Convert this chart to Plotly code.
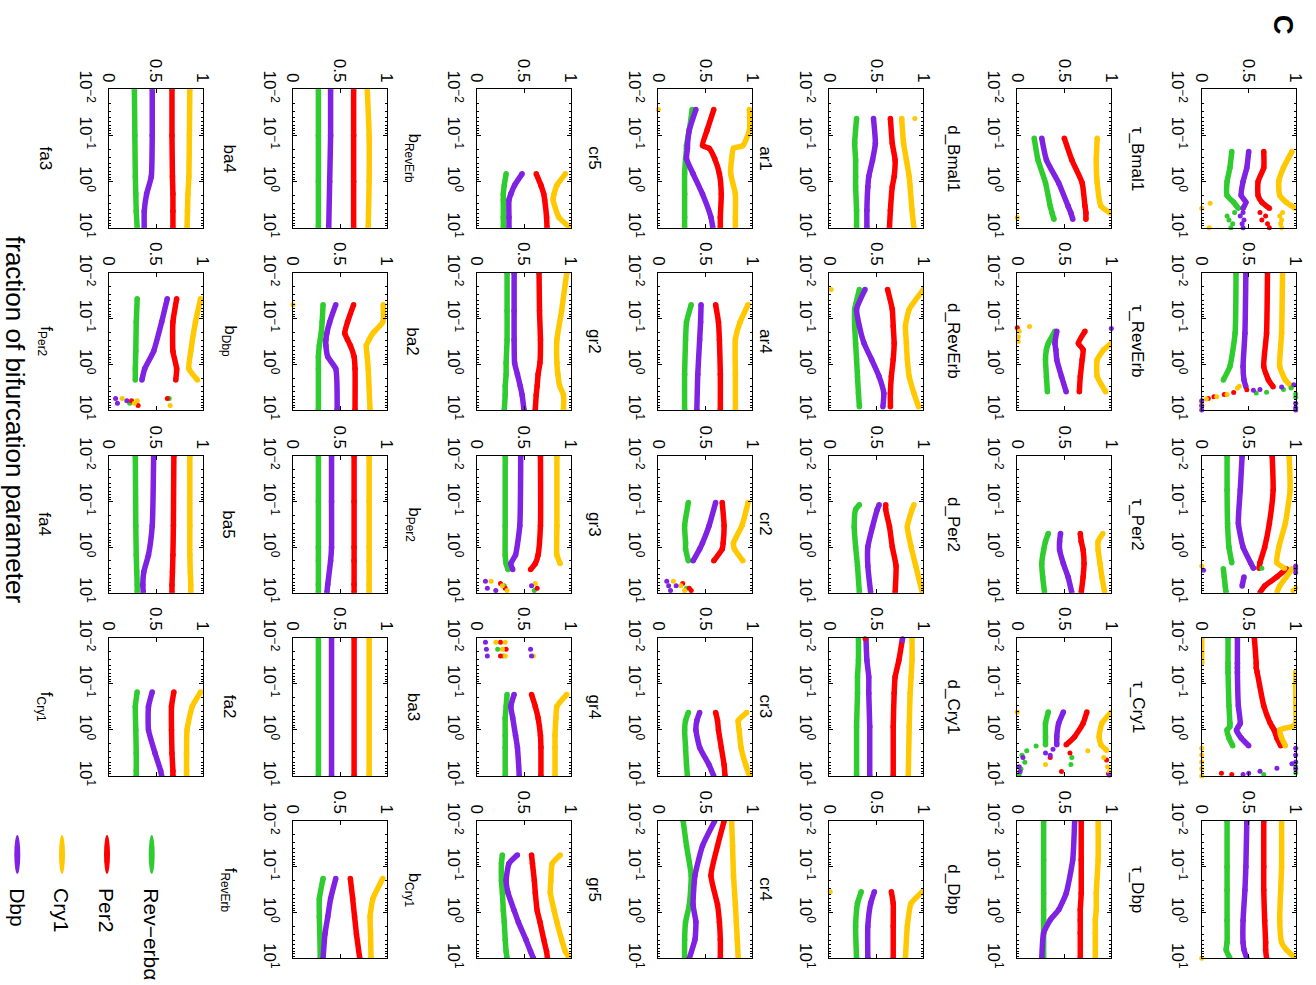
import plotly.graph_objects as go

# ---------------- series ----------------
SERIES = ["Rev−erbα", "Per2", "Cry1", "Dbp"]
SERIES_CODES = ["G", "R", "Y", "P"]   # code used in the scattered-dot lists

# ---------------- data (x = fraction of bifurcation parameter, values in [0,1]) ----------------
tauBmal1_x = [0.224, 0.5, 1.0, 2.0, 2.82, 3.8]
tauBmal1_rev = [0.32, 0.30, 0.27, 0.27, 0.34, 0.39]
tauBmal1_per = [0.66, 0.66, 0.60, 0.60, 0.64, 0.72]
tauBmal1_cry = [0.96, 0.87, 0.82, 0.83, 0.90, 1.0]
tauBmal1_dbp = [0.50, 0.48, 0.44, 0.42, 0.47, 0.44]
tauBmal1_dx = [4.7, 5.6, 6.8, 8.2, 10, 4.7, 5.6, 6.8, 8.2, 10, 4.7, 5.6, 6.8, 8.2, 10, 4.7, 5.6, 6.8, 8.2, 10, 2.95, 3.8, 10]
tauBmal1_dv = [0.35, 0.27, 0.29, 0.33, 0.31, 0.62, 0.68, 0.64, 0.70, 0.72, 0.86, 0.83, 0.85, 0.84, 0.85, 0.44, 0.41, 0.45, 0.43, 0.44, 0.09, 0.0, 0.08]
tauBmal1_dc = "GGGGGRRRRRYYYYYPPPPPYYY"

tauRevErb_x = [0.01, 0.21, 1.12, 2.2, 3.1]
tauRevErb_rev = [0.365, 0.355, 0.30, 0.23, None]
tauRevErb_per = [0.70, 0.69, 0.66, 0.71, 0.76]
tauRevErb_cry = [0.86, 0.85, 0.83, 0.89, 0.96]
tauRevErb_dbp = [0.47, 0.46, 0.44, 0.45, 0.47]
tauRevErb_dx = [2.82, 3.16, 3.55, 3.72, 6.31, 7.08, 7.94, 8.91, 10, 10,
                3.31, 3.55, 4.07, 4.27, 4.47, 5.25,
                3.63, 4.17, 4.57, 5.13, 5.62,
                3.02, 3.31, 4.57, 5.13, 5.75, 6.61, 8.32]
tauRevErb_dv = [0.98, 0.85, 0.62, 0.55, 0.0, 1.0, 0.0, 1.0, 0.0, 1.0,
                0.95, 0.87, 0.69, 0.58, 1.0, 1.0,
                0.48, 0.34, 0.24, 0.13, 0.07,
                0.40, 0.38, 0.27, 0.16, 0.05, 0.0, 0.0]
tauRevErb_dc = "PPPPPPPPPPGGGGGGRRRRRYYYYYYY"

tauPer2_x = [0.01, 0.056, 0.3, 1.0, 2.2, 2.9, 2.95, 3.0, 4.5, 7.1, 10]
tauPer2_rev = [0.27, 0.27, 0.275, 0.29, 0.32, None, None, 0.23, 0.24, 0.25, 0.26]
tauPer2_per = [0.75, 0.76, 0.72, 0.67, 0.62, 0.61, None, 0.90, 0.80, 0.67, 0.62]
tauPer2_cry = [0.93, 0.94, 0.89, 0.82, 0.80, 0.88, None, 0.96, 0.90, 0.83, 0.80]
tauPer2_dbp = [0.43, 0.41, 0.39, 0.44, 0.52, 0.55, None, None, 0.45, 0.43, None]
tauPer2_dx = [2.6, 3.0, 3.6, 3.2, 2.6, 7.9, 8.9, 2.9]
tauPer2_dv = [1.0, 1.0, 1.0, 0.02, 0.0, 1.0, 0.97, 0.64]
tauPer2_dc = "PPPPYYYG"

tauCry1_x = [0.01, 0.036, 0.045, 0.056, 0.3, 0.72, 0.85, 1.0, 1.5, 2.2]
tauCry1_rev = [0.28, 0.28, 0.28, 0.28, 0.29, 0.30, 0.30, 0.27, 0.29, 0.33]
tauCry1_per = [0.56, 0.58, 0.58, 0.59, 0.66, 0.73, 0.75, 0.77, 0.80, 0.84]
tauCry1_cry = [0.0, 0.0, None, 1.0, 1.0, 1.0, 0.96, 0.83, 0.85, 0.89]
tauCry1_dbp = [0.38, 0.38, 0.38, 0.38, 0.39, 0.41, 0.39, 0.37, 0.42, 0.50]
tauCry1_dx = [2.5, 3.5, 5.0, 7.0, 10, 2.5, 3.5, 5.0, 7.0, 5.4, 6.8, 7.9, 8.7, 9.3, 8.7, 9.3, 9.3, 6.3, 8.5]
tauCry1_dv = [0.0, 0.0, 0.0, 0.0, 0.0, 1.0, 1.0, 1.0, 1.0, 0.96, 0.80, 0.62, 0.50, 0.44, 0.21, 0.32, 0.66, 1.0, 1.0]
tauCry1_dc = "YYYYYPPPPPPPPPRRGGG"

tauDbp_x = [0.01, 0.1, 0.32, 1.5, 4.5, 6.5, 10]
tauDbp_rev = [0.27, 0.27, 0.27, 0.27, 0.27, 0.26, 0.30]
tauDbp_per = [0.66, 0.66, 0.66, 0.67, 0.68, 0.68, 0.69]
tauDbp_cry = [0.85, 0.85, 0.84, 0.83, 0.85, 0.90, 1.0]
tauDbp_dbp = [0.48, 0.47, 0.46, 0.44, 0.44, 0.45, 0.48]
tauDbp_dx = [10]
tauDbp_dv = [0.0]
tauDbp_dc = "Y"

dBmal1_x = [0.115, 0.34, 1.07, 3.4, 4.8, 6.6]
dBmal1_rev = [0.18, 0.22, 0.30, 0.35, 0.37, 0.39]
dBmal1_per = [0.50, 0.58, 0.69, 0.72, 0.73, 0.73]
dBmal1_cry = [0.85, 0.84, 0.85, 0.89, 0.99, None]
dBmal1_dbp = [0.26, 0.31, 0.44, 0.54, 0.57, 0.59]
dBmal1_dx = [6.0]
dBmal1_dv = [0.0]
dBmal1_dc = "Y"

dRevErb_x = [0.19, 0.35, 0.48, 0.8, 1.86, 4.0]
dRevErb_rev = [0.40, 0.33, 0.31, 0.30, 0.31, 0.32]
dRevErb_per = [0.72, 0.65, 0.70, 0.69, 0.67, 0.66]
dRevErb_cry = [None, 1.0, 0.92, 0.85, 0.85, 0.94]
dRevErb_dbp = [0.42, 0.40, 0.41, 0.42, 0.47, 0.52]
dRevErb_dx = [0.16, 0.15, 0.19, 0.25, 0.32, 0.166]
dRevErb_dv = [0.0, 0.13, 0.02, 0.01, 0.01, 1.0]
dRevErb_dc = "RYYYYP"

dPer2_x = [0.5, 0.75, 1.15, 2.3, 4.5, 10]
dPer2_rev = [0.33, 0.30, 0.28, 0.26, 0.27, 0.29]
dPer2_per = [0.67, 0.68, 0.70, 0.71, 0.70, 0.68]
dPer2_cry = [0.91, 0.86, 0.86, 0.88, 0.90, 0.93]
dPer2_dbp = [0.46, 0.45, 0.45, 0.49, 0.54, 0.58]

dCry1_x = [0.41, 0.72, 1.4, 2.1, 2.75]
dCry1_rev = [0.33, 0.30, 0.30, 0.30, None]
dCry1_per = [0.74, 0.70, 0.61, 0.52, None]
dCry1_cry = [1.0, 0.90, 0.87, 0.89, 0.95]
dCry1_dbp = [0.49, 0.44, 0.42, 0.42, None]
dCry1_dx = [2.24, 2.82, 3.55, 5.01, 7.08, 9.33, 3.98, 5.62,
            2.63, 3.16, 3.98, 6.31, 7.94, 3.55, 9.55,
            3.16, 3.98, 4.47, 7.94, 8.91,
            2.82, 3.98, 6.31, 7.94, 5.62, 0.41]
dCry1_dv = [0.20, 0.10, 0.05, 0.08, 0.04, 0.02, 0.58, 0.57,
            0.38, 0.30, 0.06, 0.02, 0.03, 0.35, 0.98,
            0.56, 0.35, 0.95, 0.47, 0.97,
            0.75, 0.92, 0.96, 0.98, 0.30, 0.0]
dCry1_dc = "GGGGGGGGPPPPPPPRRRRRYYYYYY"

dDbp_x = [0.01, 0.07, 0.38, 0.87, 1.45, 2.8, 10]
dDbp_rev = [0.28, 0.28, 0.28, 0.28, 0.28, 0.28, 0.28]
dDbp_per = [0.68, 0.68, 0.68, 0.67, 0.67, 0.67, 0.67]
dDbp_cry = [0.86, 0.86, 0.84, 0.84, 0.83, 0.83, 0.83]
dDbp_dbp = [0.61, 0.59, 0.52, 0.44, 0.35, 0.28, 0.26]

ar1_x = [0.043, 0.148, 0.34, 0.78, 1.29, 4.2, 10]
ar1_rev = [0.29, 0.27, 0.28, 0.28, 0.28, 0.29, 0.29]
ar1_per = [0.65, 0.67, 0.70, 0.69, 0.67, 0.65, 0.64]
ar1_cry = [0.77, 0.79, 0.82, 0.85, 0.86, 0.88, 0.90]
ar1_dbp = [0.47, 0.49, 0.46, 0.42, 0.41, 0.40, 0.40]
ar1_dx = [0.043]
ar1_dv = [0.91]
ar1_dc = "Y"

ar4_x = [0.0234, 0.063, 0.148, 0.35, 0.79, 1.86, 4.3, 8.5]
ar4_rev = [0.32, 0.27, 0.27, 0.28, 0.29, 0.30, 0.31, 0.32]
ar4_per = [0.62, 0.67, 0.68, 0.69, 0.68, 0.66, 0.65, 0.65]
ar4_cry = [1.0, 0.85, 0.81, 0.82, 0.83, 0.85, 0.90, 0.95]
ar4_dbp = [0.38, 0.29, 0.32, 0.37, 0.45, 0.53, 0.58, 0.57]
ar4_dx = [0.0234]
ar4_dv = [0.02]
ar4_dc = "Y"

cr2_x = [0.117, 0.15, 0.355, 0.98, 2.6, 10]
cr2_rev = [0.32, 0.28, 0.265, 0.28, 0.30, 0.32]
cr2_per = [0.60, 0.60, 0.64, 0.67, 0.71, 0.70]
cr2_cry = [0.90, 0.88, 0.83, 0.87, 0.92, 0.99]
cr2_dbp = [0.53, 0.51, 0.46, 0.41, 0.41, 0.44]

cr3_x = [0.01, 0.031, 0.071, 0.16, 0.85, 10]
cr3_rev = [0.31, 0.31, 0.30, 0.30, 0.29, 0.29]
cr3_per = [0.78, 0.74, 0.70, 0.69, 0.68, 0.68]
cr3_cry = [0.88, 0.88, 0.87, 0.86, 0.85, 0.84]
cr3_dbp = [0.39, 0.40, 0.42, 0.42, 0.43, 0.43]
cr3_dx = [0.0105, 0.0105, 0.0115]
cr3_dv = [0.38, 0.78, 0.775]
cr3_dc = "RPP"

cr4_x = [0.35, 0.63, 2.0, 10]
cr4_rev = [0.34, 0.30, 0.28, 0.29]
cr4_per = [0.66, 0.68, 0.68, 0.68]
cr4_cry = [0.99, 0.87, 0.83, 0.81]
cr4_dbp = [0.48, 0.44, 0.41, 0.41]
cr4_dx = [0.35]
cr4_dv = [0.01]
cr4_dc = "Y"

cr5_x = [0.0275, 0.076, 0.166, 0.19, 0.32, 0.68, 1.86, 5.9, 10]
cr5_rev = [0.36, 0.33, 0.30, 0.30, 0.29, 0.28, 0.28, 0.28, 0.28]
cr5_per = [0.59, 0.52, 0.47, 0.54, 0.60, 0.65, 0.67, 0.66, 0.66]
cr5_cry = [0.97, 0.97, 0.90, 0.80, 0.78, 0.77, 0.82, 0.82, 0.82]
cr5_dbp = [0.40, 0.33, 0.31, 0.31, 0.30, 0.37, 0.47, 0.56, 0.58]
cr5_dx = [0.0275]
cr5_dv = [0.0]
cr5_dc = "Y"

gr2_x = [0.05, 0.12, 0.29, 1.66, 10]
gr2_rev = [0.35, 0.30, 0.29, 0.28, 0.28]
gr2_per = [0.61, 0.64, 0.65, 0.66, 0.66]
gr2_cry = [0.955, 0.87, 0.82, 0.82, 0.82]
gr2_dbp = [0.455, 0.45, 0.44, 0.42, 0.41]

gr3_x = [0.105, 0.34, 0.81, 1.1, 2.0]
gr3_rev = [0.32, 0.28, 0.29, 0.29, 0.32]
gr3_per = [0.68, 0.70, 0.69, 0.68, 0.59]
gr3_cry = [0.955, 0.89, 0.80, 0.81, 0.90]
gr3_dbp = [0.61, 0.54, 0.47, 0.44, 0.37]
gr3_dx = [5.62, 7.08, 8.91, 7.08, 5.62, 7.08, 8.91, 6.31, 7.94, 8.91, 7.94]
gr3_dv = [0.09, 0.11, 0.13, 0.19, 0.16, 0.24, 0.28, 0.26, 0.33, 0.35, 0.30]
gr3_dc = "PPPPYYYRRRG"

gr4_x = [0.42, 0.63, 1.0, 2.4, 5.75, 10]
gr4_rev = [0.32, 0.29, 0.28, 0.29, 0.30, 0.31]
gr4_per = [0.61, 0.63, 0.64, 0.67, 0.70, 0.71]
gr4_cry = [0.94, 0.85, 0.86, 0.88, 0.93, 0.97]
gr4_dbp = [0.44, 0.41, 0.40, 0.44, 0.54, 0.59]

gr5_x = [0.01, 0.035, 0.155, 0.68, 1.62, 3.9, 10]
gr5_rev = [0.265, 0.30, 0.35, 0.33, 0.29, 0.28, 0.28]
gr5_per = [0.70, 0.63, 0.56, 0.63, 0.65, 0.66, 0.66]
gr5_cry = [0.78, 0.79, 0.80, 0.82, 0.83, 0.84, 0.85]
gr5_dbp = [0.60, 0.47, 0.39, 0.37, 0.40, 0.39, 0.33]

bRevErb_x = [0.68, 1.2, 1.86, 2.5, 5.9, 10]
bRevErb_rev = [0.31, 0.29, 0.28, 0.28, 0.28, 0.28]
bRevErb_per = [0.63, 0.68, 0.71, 0.72, 0.74, 0.745]
bRevErb_cry = [0.94, 0.85, 0.82, 0.81, 0.87, 0.99]
bRevErb_dbp = [0.48, 0.40, 0.36, 0.34, 0.34, 0.34]

ba2_x = [0.01, 0.068, 0.29, 0.93, 1.66, 3.0, 4.7, 10]
ba2_rev = [0.32, 0.32, 0.32, 0.31, 0.31, 0.30, 0.30, 0.29]
ba2_per = [0.66, 0.665, 0.675, 0.67, 0.65, 0.64, 0.63, 0.62]
ba2_cry = [0.955, 0.90, 0.85, 0.85, 0.86, 0.88, 0.92, 0.92]
ba2_dbp = [0.395, 0.395, 0.395, 0.40, 0.43, 0.46, 0.48, 0.50]

bPer2_x = [0.01, 0.34, 1.48, 2.3, 3.1]
bPer2_rev = [0.30, 0.30, 0.30, 0.31, 0.33]
bPer2_per = [0.675, 0.675, 0.65, 0.62, 0.57]
bPer2_cry = [0.85, 0.85, 0.85, 0.885, None]
bPer2_dbp = [0.465, 0.455, 0.41, 0.36, 0.38]
bPer2_dx = [5.62, 7.94, 7.08, 8.91, 5.62, 7.08, 8.91, 6.31, 6.31, 7.94, 7.94, 7.08, 8.91]
bPer2_dv = [0.09, 0.11, 0.58, 0.20, 0.15, 0.27, 0.32, 0.62, 0.25, 0.30, 0.64, 0.29, 0.61]
bPer2_dc = "PPPPYYYYRRRGG"

ba3_x = [0.17, 0.31, 0.55, 1.32, 2.4, 10]
ba3_rev = [0.32, 0.31, 0.30, 0.30, 0.30, 0.30]
ba3_per = [0.58, 0.62, 0.65, 0.675, 0.68, 0.68]
ba3_cry = [0.955, 0.85, 0.84, 0.83, 0.83, 0.83]
ba3_dbp = [0.395, 0.36, 0.38, 0.41, 0.43, 0.45]
ba3_dx = [0.0126, 0.0178, 0.0251, 0.0178, 0.0251, 0.0126, 0.0178, 0.0251, 0.0251, 0.0126,
          0.0126, 0.0178, 0.0251, 0.0178, 0.0251]
ba3_dv = [0.09, 0.10, 0.11, 0.57, 0.58, 0.20, 0.27, 0.30, 0.60, 0.30,
          0.25, 0.31, 0.25, 0.22, 0.28]
ba3_dc = "PPPPPYYYYYRRRGG"

bCry1_x = [0.055, 0.085, 0.2, 0.37, 0.9, 1.62, 3.9, 7.1, 10]
bCry1_rev = [0.27, 0.26, 0.26, 0.27, 0.28, 0.29, 0.30, 0.31, 0.32]
bCry1_per = [0.58, 0.59, 0.61, 0.62, 0.64, 0.67, 0.71, 0.74, 0.75]
bCry1_cry = [0.885, 0.80, 0.785, 0.78, 0.82, 0.85, 0.90, 0.94, 0.985]
bCry1_dbp = [0.43, 0.34, 0.31, 0.33, 0.395, 0.44, 0.52, 0.57, 0.60]

ba4_x = [0.01, 0.1, 1.0, 10]
ba4_rev = [0.27, 0.27, 0.27, 0.27]
ba4_per = [0.645, 0.645, 0.645, 0.645]
ba4_cry = [0.79, 0.81, 0.81, 0.80]
ba4_dbp = [0.40, 0.40, 0.39, 0.38]

bDbp_x = [0.05, 0.12, 0.21, 0.29, 0.39, 0.69, 1.26, 10]
bDbp_rev = [0.32, 0.31, 0.30, 0.29, 0.28, 0.27, 0.27, 0.27]
bDbp_per = [0.645, 0.58, 0.55, 0.58, 0.61, 0.65, 0.66, 0.66]
bDbp_cry = [0.96, 0.955, 0.85, 0.81, 0.78, 0.79, 0.80, 0.82]
bDbp_dbp = [0.455, 0.39, 0.36, 0.35, 0.35, 0.37, 0.455, 0.47]
bDbp_dx = [0.05]
bDbp_dv = [0.0]
bDbp_dc = "Y"

ba5_x = [0.01, 0.1, 1.0, 2.0, 6.5, 10]
ba5_rev = [0.27, 0.27, 0.27, 0.27, 0.27, 0.27]
ba5_per = [0.65, 0.65, 0.65, 0.65, 0.65, 0.65]
ba5_cry = [0.81, 0.81, 0.81, 0.81, 0.81, 0.81]
ba5_dbp = [0.41, 0.41, 0.41, 0.40, 0.37, 0.36]

fa2_x = [0.01, 10]
fa2_rev = [0.27, 0.27]
fa2_per = [0.65, 0.65]
fa2_cry = [0.81, 0.81]
fa2_dbp = [0.41, 0.41]

fRevErb_x = [0.18, 0.5, 1.23, 2.95, 10]
fRevErb_rev = [0.32, 0.28, 0.28, 0.285, 0.29]
fRevErb_per = [0.61, 0.635, 0.655, 0.675, 0.71]
fRevErb_cry = [0.955, 0.85, 0.82, 0.825, 0.83]
fRevErb_dbp = [0.455, 0.40, 0.37, 0.34, 0.32]

fa3_x = [0.01, 0.1, 0.78, 1.86, 4.4, 10]
fa3_rev = [0.27, 0.275, 0.28, 0.285, 0.29, 0.30]
fa3_per = [0.67, 0.67, 0.675, 0.68, 0.68, 0.68]
fa3_cry = [0.86, 0.855, 0.85, 0.84, 0.835, 0.83]
fa3_dbp = [0.46, 0.46, 0.45, 0.40, 0.375, 0.375]

fPer2_x = [0.037, 0.12, 0.52, 1.26, 2.2]
fPer2_rev = [0.30, 0.29, 0.285, 0.28, 0.28]
fPer2_per = [0.72, 0.68, 0.68, 0.72, 0.71]
fPer2_cry = [0.975, 0.92, 0.87, 0.85, 0.94]
fPer2_dbp = [0.62, 0.56, 0.475, 0.38, 0.35]
fPer2_dx = [5.62, 7.08, 6.31, 5.62, 7.08, 7.94, 6.31, 6.31, 7.94, 5.62, 7.08, 5.62]
fPer2_dv = [0.07, 0.09, 0.19, 0.14, 0.27, 0.65, 0.30, 0.24, 0.31, 0.62, 0.22, 0.64]
fPer2_dc = "PPPYYYYRRRGG"

fa4_x = [0.01, 0.34, 1.48, 3.5, 6.8, 10]
fa4_rev = [0.28, 0.285, 0.29, 0.295, 0.30, 0.30]
fa4_per = [0.69, 0.685, 0.68, 0.675, 0.67, 0.67]
fa4_cry = [0.86, 0.86, 0.86, 0.865, 0.87, 0.87]
fa4_dbp = [0.475, 0.46, 0.42, 0.37, 0.36, 0.365]

fCry1_x = [0.15, 0.31, 1.0, 3.2, 7.8, 10]
fCry1_rev = [0.30, 0.28, 0.285, 0.29, 0.29, 0.29]
fCry1_per = [0.69, 0.665, 0.665, 0.67, 0.68, 0.68]
fCry1_cry = [0.975, 0.885, 0.83, 0.825, 0.825, 0.825]
fCry1_dbp = [0.46, 0.42, 0.42, 0.49, 0.55, 0.56]

# panel labels (TeX-like subscripts rendered with <sub>)
PANEL_LABELS = [
    "τ_Bmal1", "τ_RevErb", "τ_Per2", "τ_Cry1", "τ_Dbp",
    "d_Bmal1", "d_RevErb", "d_Per2", "d_Cry1", "d_Dbp",
    "ar1", "ar4", "cr2", "cr3", "cr4",
    "cr5", "gr2", "gr3", "gr4", "gr5",
    "b<sub>RevErb</sub>", "ba2", "b<sub>Per2</sub>", "ba3", "b<sub>Cry1</sub>",
    "ba4", "b<sub>Dbp</sub>", "ba5", "fa2", "f<sub>RevErb</sub>",
    "fa3", "f<sub>Per2</sub>", "fa4", "f<sub>Cry1</sub>",
]
PANEL_KEYS = [
    "tauBmal1", "tauRevErb", "tauPer2", "tauCry1", "tauDbp",
    "dBmal1", "dRevErb", "dPer2", "dCry1", "dDbp",
    "ar1", "ar4", "cr2", "cr3", "cr4",
    "cr5", "gr2", "gr3", "gr4", "gr5",
    "bRevErb", "ba2", "bPer2", "ba3", "bCry1",
    "ba4", "bDbp", "ba5", "fa2", "fRevErb",
    "fa3", "fPer2", "fa4", "fCry1",
]
Y_TICKVALS = [0.01, 0.1, 1, 10]
Y_TICKTEXT = ["10<sup>−2</sup>", "10<sup>−1</sup>", "10<sup>0</sup>", "10<sup>1</sup>"]
X_TICKVALS = [0, 0.5, 1]
X_TICKTEXT = ["0", "0.5", "1"]
MINOR_VALS = [0.02, 0.03, 0.04, 0.05, 0.06, 0.07, 0.08, 0.09,
              0.2, 0.3, 0.4, 0.5, 0.6, 0.7, 0.8, 0.9,
              2, 3, 4, 5, 6, 7, 8, 9]

# ---------------- style / layout constants ----------------
W, H = 1316, 985
COLORS = {"G": "#2ECC2E", "R": "#FF0000", "Y": "#FFC800", "P": "#7F22E3"}
FONT = "Liberation Sans, Arial, Helvetica, sans-serif"
COL_LEFT = [1201.7, 1017.3, 829.3, 658.3, 477.0, 293.0, 109.0]   # picture x of each original row
PANEL_W = 94.0
ROW_TOP = [89.3, 272.7, 456.0, 637.7, 821.0]
ROW_BOTTOM = [227.7, 410.0, 592.7, 776.0, 958.3]

g = globals()
fig = go.Figure()
layout = dict(
    width=W, height=H, margin=dict(l=0, r=0, t=0, b=0, autoexpand=False),
    paper_bgcolor="white", plot_bgcolor="white", showlegend=False,
    font=dict(family=FONT, color="black"),
)
annotations = []
shapes = []

for k, key in enumerate(PANEL_KEYS):
    r, c = divmod(k, 5)
    left = COL_LEFT[r]
    right = left + PANEL_W
    top, bottom = ROW_TOP[c], ROW_BOTTOM[c]
    n = k + 1
    xa = "x" if n == 1 else f"x{n}"
    ya = "y" if n == 1 else f"y{n}"
    xs = g[key + "_x"]
    vals = [g[key + "_rev"], g[key + "_per"], g[key + "_cry"], g[key + "_dbp"]]
    for code, v in zip(SERIES_CODES, vals):
        fig.add_trace(go.Scatter(
            x=v, y=xs, xaxis=xa, yaxis=ya, mode="lines+markers",
            line=dict(color=COLORS[code], width=5.5, shape="spline", smoothing=0.5),
            marker=dict(color=COLORS[code], size=5.5),
            connectgaps=False, hoverinfo="skip"))
    if key + "_dx" in g:
        dx, dv, dc = g[key + "_dx"], g[key + "_dv"], g[key + "_dc"]
        for code in SERIES_CODES:
            px = [dx[i] for i in range(len(dx)) if dc[i] == code]
            pv = [dv[i] for i in range(len(dv)) if dc[i] == code]
            if px:
                fig.add_trace(go.Scatter(
                    x=pv, y=px, xaxis=xa, yaxis=ya, mode="markers",
                    marker=dict(color=COLORS[code], size=5),
                    cliponaxis=False, hoverinfo="skip"))
    axis_common = dict(
        ticks="inside", ticklen=4, tickcolor="black", tickwidth=1,
        showline=True, linecolor="black", linewidth=1, mirror="ticks",
        showgrid=False, zeroline=False, tickangle=90, fixedrange=True,
        tickfont=dict(size=17, color="black", family=FONT),
    )
    layout["xaxis" if n == 1 else f"xaxis{n}"] = dict(
        axis_common, domain=[left / W, right / W], anchor=ya, side="top",
        range=[0, 1], tickmode="array", tickvals=X_TICKVALS, ticktext=X_TICKTEXT)
    layout["yaxis" if n == 1 else f"yaxis{n}"] = dict(
        axis_common, domain=[1 - bottom / H, 1 - top / H], anchor=xa,
        type="log", range=[1, -2], tickmode="array", tickvals=Y_TICKVALS,
        ticktext=Y_TICKTEXT, ticklabelstandoff=8,
        minor=dict(ticks="inside", ticklen=2, tickcolor="black", tickvals=MINOR_VALS, showgrid=False))
    annotations.append(dict(
        text=PANEL_LABELS[k], x=(left - 64) / W, y=1 - (top + bottom) / 2 / H,
        xref="paper", yref="paper", showarrow=False, textangle=90,
        xanchor="center", yanchor="middle",
        font=dict(size=17, color="black", family=FONT)))

# overall axis label and panel letter
annotations.append(dict(text="fraction of bifurcation parameter", x=15 / W, y=1 - 419 / H,
                        xref="paper", yref="paper", showarrow=False, textangle=90,
                        xanchor="center", yanchor="middle",
                        font=dict(size=26, color="black", family=FONT)))
annotations.append(dict(text="<b>C</b>", x=1283 / W, y=1 - 25 / H, xref="paper", yref="paper",
                        showarrow=False, textangle=90, xanchor="center", yanchor="middle",
                        font=dict(size=27, color="black", family=FONT)))

# legend (drawn in the rotated orientation)
LEGEND_X = [151.7, 107.0, 62.0, 17.3]
for code, name, lx in zip(SERIES_CODES, SERIES, LEGEND_X):
    shapes.append(dict(type="circle", xref="paper", yref="paper",
                       x0=(lx - 3) / W, x1=(lx + 3) / W, y0=1 - 874 / H, y1=1 - 835 / H,
                       fillcolor=COLORS[code], line=dict(width=0)))
    annotations.append(dict(text=name, x=lx / W, y=1 - 886 / H, xref="paper", yref="paper",
                            showarrow=False, textangle=90, xanchor="center", yanchor="top",
                            font=dict(size=21, color="black", family=FONT)))

layout["annotations"] = annotations
layout["shapes"] = shapes
fig.update_layout(**layout)
fig.write_html("out.html", post_script="document.body.style.margin='0px';")
